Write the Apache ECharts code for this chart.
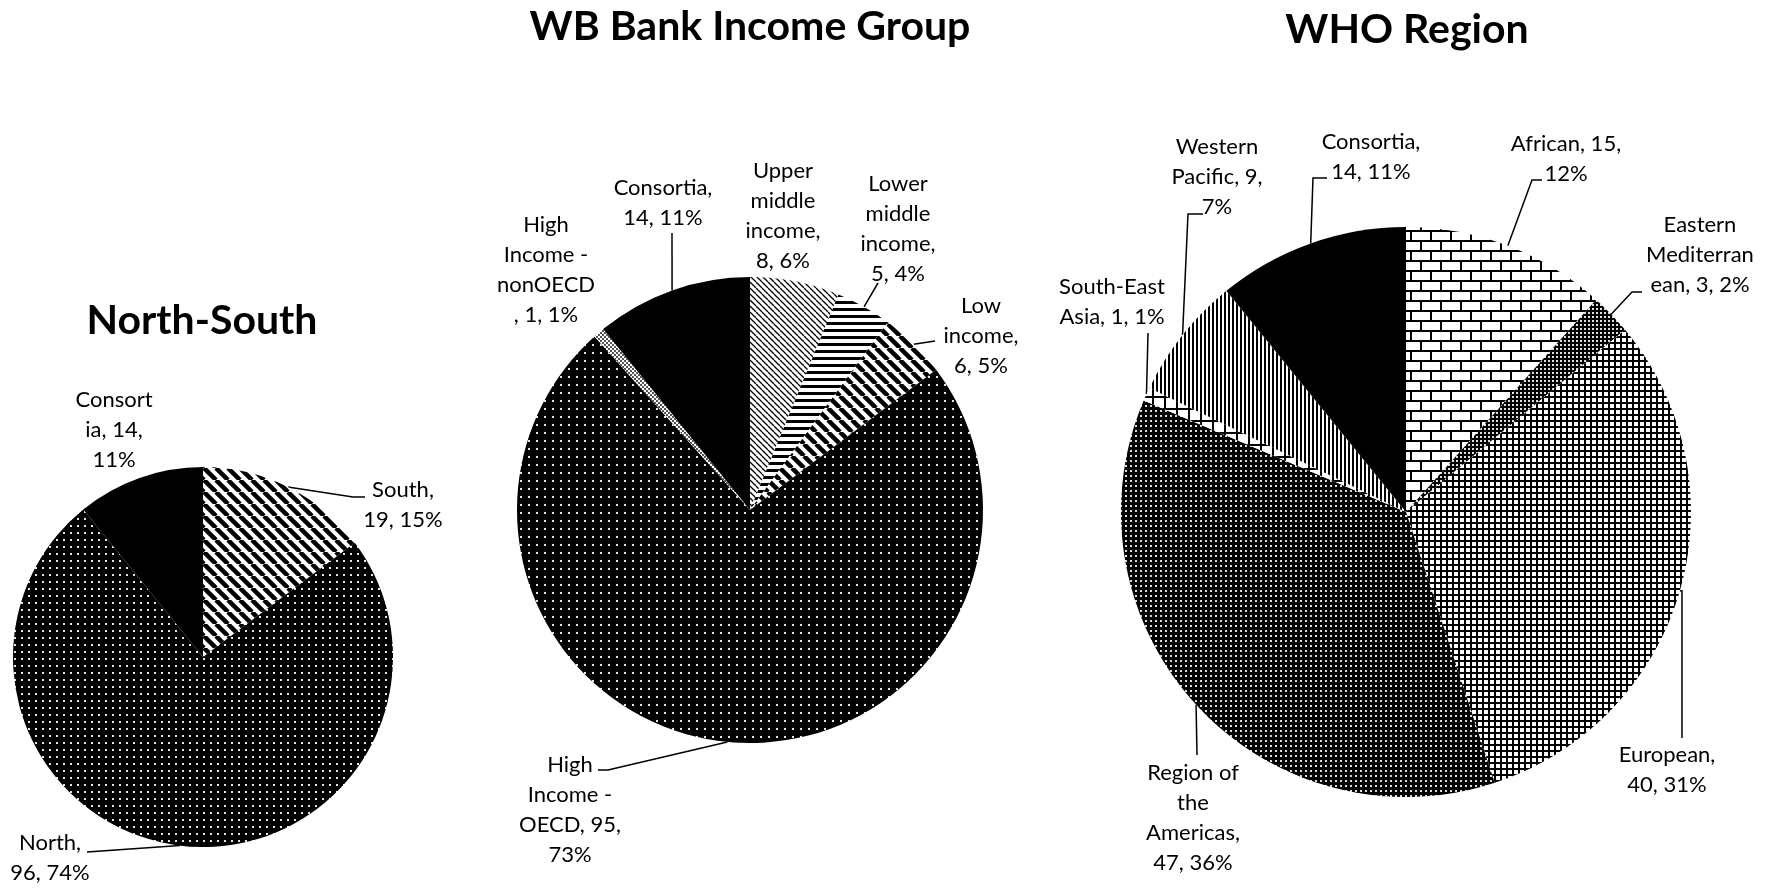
<!DOCTYPE html>
<html>
<head>
<meta charset="utf-8">
<title>North-South / WB Bank Income Group / WHO Region</title>
<script src="https://cdn.jsdelivr.net/npm/echarts@6/dist/echarts.min.js"></script>
<style>
  html, body { margin: 0; padding: 0; background: #fff; }
  #main { width: 1773px; height: 889px; }
</style>
</head>
<body>
<div id="main"></div>
<script>
// ---- data ----
var nsNames = ['South', 'North', 'Consortia']
var nsValues = [19, 96, 14]

var wbNames = ['Upper middle income', 'Lower middle income', 'Low income',
  'High Income - OECD', 'High Income - nonOECD', 'Consortia']
var wbValues = [8, 5, 6, 95, 1, 14]

var whoNames = ['African', 'Eastern Mediterranean', 'European',
  'Region of the Americas', 'South-East Asia', 'Western Pacific', 'Consortia']
var whoValues = [15, 3, 40, 47, 1, 9, 14]

var FONT = 'Lato'

// ---- pattern fills (Excel style hatches) ----
function tile (w, h, draw) {
  var c = document.createElement('canvas')
  c.width = w
  c.height = h
  var ctx = c.getContext('2d')
  draw(ctx, w, h)
  return { image: c, repeat: 'repeat' }
}
function dots (step, size, bg, fg) {
  return tile(step, step, function (ctx, w, h) {
    ctx.fillStyle = bg; ctx.fillRect(0, 0, w, h)
    ctx.fillStyle = fg; ctx.fillRect(0, 0, size, size)
  })
}
function diagonal (step, width) {
  return tile(step, step, function (ctx, w, h) {
    ctx.fillStyle = '#fff'; ctx.fillRect(0, 0, w, h)
    ctx.strokeStyle = '#000'; ctx.lineWidth = width
    for (var k = -1; k <= 1; k++) {
      ctx.beginPath(); ctx.moveTo(k * w, 0); ctx.lineTo(k * w + w, h); ctx.stroke()
    }
  })
}
function horizontal (step, thick) {
  return tile(4, step, function (ctx, w, h) {
    ctx.fillStyle = '#fff'; ctx.fillRect(0, 0, w, h)
    ctx.fillStyle = '#000'; ctx.fillRect(0, 0, w, thick)
  })
}
function vertical (step, thick) {
  return tile(step, 4, function (ctx, w, h) {
    ctx.fillStyle = '#fff'; ctx.fillRect(0, 0, w, h)
    ctx.fillStyle = '#000'; ctx.fillRect(0, 0, thick, h)
  })
}
function grid (step, lw) {
  return tile(step, step, function (ctx, w, h) {
    ctx.fillStyle = '#fff'; ctx.fillRect(0, 0, w, h)
    ctx.fillStyle = '#000'; ctx.fillRect(0, 0, w, lw); ctx.fillRect(0, 0, lw, h)
  })
}
function checker (s) {
  return tile(s * 2, s * 2, function (ctx, w, h) {
    ctx.fillStyle = '#fff'; ctx.fillRect(0, 0, w, h)
    ctx.fillStyle = '#555'; ctx.fillRect(0, 0, s, s); ctx.fillRect(s, s, s, s)
  })
}
function brick (bw, bh, lw) {
  return tile(bw, bh * 2, function (ctx, w, h) {
    ctx.fillStyle = '#fff'; ctx.fillRect(0, 0, w, h)
    ctx.fillStyle = '#000'
    ctx.fillRect(0, 0, w, lw); ctx.fillRect(0, bh, w, lw)
    ctx.fillRect(0, 0, lw, bh); ctx.fillRect(bw / 2, bh, lw, bh)
  })
}

var nsFills = [diagonal(12, 4.5), dots(7, 2, '#000', '#e6e6e6'), '#000']
var wbFills = [diagonal(6, 1.3), horizontal(7, 3), diagonal(12, 4.5),
  dots(8, 2, '#000', '#e6e6e6'), checker(2), '#000']
var whoFills = [brick(20, 10, 2), dots(4, 2, '#000', '#ddd'), grid(6, 2),
  dots(5, 2, '#000', '#ddd'), grid(12, 2), vertical(4, 2), '#000']

// ---- label layout: wrap points, block centre, leader line (label side) ----
var nsLabels = [
  { cuts: [6], pos: [403, 505], line: [[353, 497], [365, 497]] },
  { cuts: [6], pos: [50, 858], line: [[87, 852]] },
  { cuts: [7, 14], pos: [114, 430], line: null }
]
var wbLabels = [
  { cuts: [5, 12, 20], pos: [783, 216], line: null },
  { cuts: [5, 12, 20], pos: [898, 229], line: [[878, 283]] },
  { cuts: [3, 11], pos: [981, 336], line: [[935, 341]] },
  { cuts: [4, 13, 23], pos: [570, 810], line: [[608, 770], [598, 770]] },
  { cuts: [4, 13, 21], pos: [546, 270], line: null },
  { cuts: [10], pos: [663, 203], line: [[672, 233]] }
]
var whoLabels = [
  { cuts: [12], pos: [1566, 159], line: [[1532, 180], [1542, 180]] },
  { cuts: [7, 18], pos: [1700, 255], line: [[1632, 292], [1642, 292]] },
  { cuts: [9], pos: [1667, 770], line: [[1682, 591], [1682, 738]] },
  { cuts: [9, 13, 23], pos: [1193, 818], line: [[1197, 755]] },
  { cuts: [10], pos: [1112, 302], line: [[1148, 333]] },
  { cuts: [7, 19], pos: [1217, 177], line: [[1188, 214], [1203, 214]] },
  { cuts: [10], pos: [1371, 157], line: [[1313, 178], [1327, 178]] }
]

function wrapAt (text, cuts) {
  var parts = []
  var from = 0
  cuts.forEach(function (c) { parts.push(text.slice(from, c).trim()); from = c })
  parts.push(text.slice(from).trim())
  return parts.join('\n')
}

// point on the rim at the middle of slice i (pie starts at 12 o'clock, clockwise)
function rimPoint (values, i, center, radius) {
  var total = values.reduce(function (a, b) { return a + b }, 0)
  var before = values.slice(0, i).reduce(function (a, b) { return a + b }, 0)
  var ang = (before + values[i] / 2) / total * Math.PI * 2
  return [center[0] + radius * Math.sin(ang), center[1] - radius * Math.cos(ang)]
}

function pieSeries (names, values, fills, labels, center, radius) {
  return {
    type: 'pie',
    center: center,
    radius: radius,
    startAngle: 90,
    clockwise: true,
    percentPrecision: 0,
    avoidLabelOverlap: false,
    silent: true,
    emphasis: { disabled: true },
    itemStyle: { borderWidth: 0 },
    label: {
      show: true,
      position: 'outside',
      color: '#000',
      fontFamily: FONT,
      fontSize: 22,
      lineHeight: 30,
      formatter: function (p) {
        return wrapAt(p.name + ', ' + p.value + ', ' + p.percent + '%', labels[p.dataIndex].cuts)
      }
    },
    labelLine: { show: true, length: 10, length2: 10, smooth: false, lineStyle: { color: '#000', width: 1.5 } },
    labelLayout: function (p) {
      var L = labels[p.dataIndex]
      var out = { x: L.pos[0], y: L.pos[1], align: 'center', verticalAlign: 'middle' }
      if (L.line) out.labelLinePoints = [rimPoint(values, p.dataIndex, center, radius)].concat(L.line)
      return out
    },
    data: names.map(function (n, i) {
      return {
        name: n,
        value: values[i],
        itemStyle: { color: fills[i] },
        labelLine: { show: labels[i].line != null }
      }
    })
  }
}

function titleText (text, x, y) {
  return {
    type: 'text',
    x: x,
    y: y,
    silent: true,
    style: {
      text: text,
      fill: '#000',
      fontFamily: FONT,
      fontWeight: 'bold',
      fontSize: 41,
      align: 'center',
      verticalAlign: 'middle'
    }
  }
}

var chart = echarts.init(document.getElementById('main'))
chart.setOption({
  animation: false,
  backgroundColor: '#fff',
  graphic: [
    titleText('North-South', 202, 321),
    titleText('WB Bank Income Group', 750, 27),
    titleText('WHO Region', 1407, 30)
  ],
  series: [
    pieSeries(nsNames, nsValues, nsFills, nsLabels, [203, 657], 190),
    pieSeries(wbNames, wbValues, wbFills, wbLabels, [750, 510], 233),
    pieSeries(whoNames, whoValues, whoFills, whoLabels, [1406, 512], 285)
  ]
})
</script>
</body>
</html>
